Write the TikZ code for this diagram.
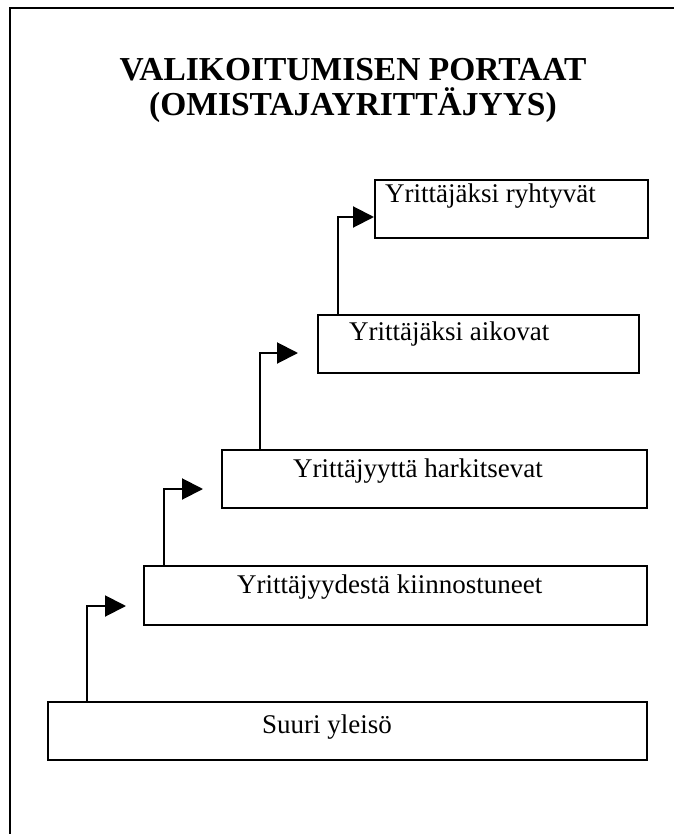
\documentclass[tikz,border=0pt]{standalone}
\usepackage{fontspec}
\setmainfont{Liberation Serif}
\usetikzlibrary{arrows.meta}
\tikzset{
  stair/.style={draw, line width=2pt, inner sep=0pt, outer sep=0pt, anchor=north west},
  stairtext/.style={anchor=base west, inner sep=0pt, font=\fontsize{27}{32}\selectfont},
  titletext/.style={anchor=base, inner sep=0pt, font=\fontsize{33.5}{38}\selectfont\bfseries},
  riser/.style={line width=2pt, -{Triangle[length=21pt,width=21pt]}},
}
\begin{document}
\begin{tikzpicture}[x=1pt, y=-1pt]
\useasboundingbox (0,0) rectangle (674,834);
% outer frame (only the top and left sides fall inside the page)
\draw[line width=2pt] (10,834) -- (10,8) -- (674,8);

% title
\node[titletext] (title1) at (353,81) {VALIKOITUMISEN PORTAAT};
\node[titletext] (title2) at (353,116) {(OMISTAJAYRITTÄJYYS)};

% steps, from the bottom up
\node[stair, minimum width=599pt, minimum height=58pt] (b1) at (48,702) {};
\node[stair, minimum width=503pt, minimum height=59pt] (b2) at (144,566) {};
\node[stair, minimum width=425pt, minimum height=58pt] (b3) at (222,450) {};
\node[stair, minimum width=321pt, minimum height=58pt] (b4) at (318,315) {};
\node[stair, minimum width=273pt, minimum height=58pt] (b5) at (375,180) {};

\node[stairtext] (l1) at (262,733) {Suuri yleisö};
\node[stairtext] (l2) at (237,593) {Yrittäjyydestä kiinnostuneet};
\node[stairtext] (l3) at (293,477) {Yrittäjyyttä harkitsevat};
\node[stairtext] (l4) at (349,340) {Yrittäjäksi aikovat};
\node[stairtext] (l5) at (385,203) {Yrittäjäksi ryhtyvät};

% arrow tips just before each next step
\coordinate (a1) at (126,606);
\coordinate (a2) at (203,489);
\coordinate (a3) at (298,353);
\coordinate (a4) at (374,217);

\draw[riser] ([xshift=39pt]b1.north west) |- (a1);
\draw[riser] ([xshift=20pt]b2.north west) |- (a2);
\draw[riser] ([xshift=38pt]b3.north west) |- (a3);
\draw[riser] ([xshift=20pt]b4.north west) |- (a4);
\end{tikzpicture}
\end{document}
